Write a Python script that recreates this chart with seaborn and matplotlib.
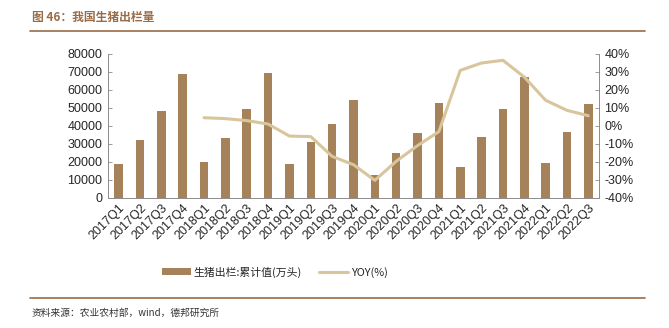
import numpy as np
import pandas as pd
import matplotlib
matplotlib.use("Agg")
import matplotlib.pyplot as plt
from matplotlib.patches import Patch
from matplotlib.lines import Line2D
import seaborn as sns

categories = ["2017Q1", "2017Q2", "2017Q3", "2017Q4",
              "2018Q1", "2018Q2", "2018Q3", "2018Q4",
              "2019Q1", "2019Q2", "2019Q3", "2019Q4",
              "2020Q1", "2020Q2", "2020Q3", "2020Q4",
              "2021Q1", "2021Q2", "2021Q3", "2021Q4",
              "2022Q1", "2022Q2", "2022Q3"]
slaughter = [19100, 32200, 48300, 69000,
             19800, 33300, 49600, 69600,
             18700, 31300, 40900, 54600,
             13000, 25000, 36100, 52800,
             17200, 33700, 49300, 67200,
             19400, 36700, 52200]
yoy = [np.nan, np.nan, np.nan, np.nan,
       4.6, 4.1, 3.0, 1.1,
       -5.6, -5.9, -16.9, -21.5,
       -30.2, -19.6, -10.9, -3.1,
       30.9, 35.0, 36.5, 27.2,
       14.3, 8.7, 5.7]
left_ticks = [0, 10000, 20000, 30000, 40000, 50000, 60000, 70000, 80000]
right_ticks = [-40, -30, -20, -10, 0, 10, 20, 30, 40]

bar_label = "生猪出栏:累计值(万头)"
line_label = "YOY(%)"
title = "图 46：我国生猪出栏量"
source = "资料来源：农业农村部，wind，德邦研究所"

sns.set_theme(style="white")
plt.rcParams['font.family'] = ['Liberation Sans', 'Noto Sans CJK SC', 'DejaVu Sans']
cjk = ['Noto Sans CJK SC', 'DejaVu Sans']

BAR = "#A6825A"
LINE = "#D8C59C"
BROWN = "#9A6B45"
AX = "#8C8C8C"
FS = 9

fig = plt.figure(figsize=(6.69, 3.28), dpi=100)
ax = fig.add_axes([108/669, 1-198/328, (599-108)/669, (198-54)/328])

df = pd.DataFrame({"q": categories, "v": slaughter, "y": yoy})
sns.barplot(data=df, x="q", y="v", ax=ax, color=BAR, width=0.4,
            saturation=1, edgecolor="none", order=categories)
ax.set_xlim(-0.5, len(categories) - 0.5)
ax.set_ylim(0, 80000)
ax.set_yticks(left_ticks)
ax.set_yticklabels([str(t) for t in left_ticks], fontsize=FS)
ax.set_xlabel("")
ax.set_ylabel("")
ax.set_xticks(np.arange(len(categories)))
ax.set_xticklabels(categories, rotation=45, ha="right", rotation_mode="anchor",
                   fontsize=FS)
ax.tick_params(axis="x", length=0, pad=3)
ax.set_xticks(np.arange(len(categories) + 1) - 0.5, minor=True)
ax.tick_params(axis="x", which="minor", direction="in", length=3, color=AX, width=0.6)
ax.tick_params(axis="y", direction="in", length=3, color=AX, width=0.6, pad=4)
ax.spines["top"].set_visible(False)
for s in ["left", "bottom", "right"]:
    ax.spines[s].set_color(AX)
    ax.spines[s].set_linewidth(0.6)

ax2 = ax.twinx()
sns.lineplot(x=np.arange(len(categories)), y=df["y"], ax=ax2, color=LINE,
             linewidth=2.2)
ax2.set_ylim(-40, 40)
ax2.set_yticks(right_ticks)
ax2.set_yticklabels([f"{t}%" for t in right_ticks], fontsize=FS)
ax2.set_ylabel("")
ax2.tick_params(axis="y", direction="in", length=3, color=AX, width=0.6, pad=4)
ax2.spines["top"].set_visible(False)
for s in ["left", "bottom", "right"]:
    ax2.spines[s].set_color(AX)
    ax2.spines[s].set_linewidth(0.6)
ax2.set_xlim(-0.5, len(categories) - 0.5)

# title and rules
fig.text(32/669, 1-17/328, title, fontsize=8.5, fontweight="bold", color=BROWN,
         family=cjk, va="center", ha="left")
fig.add_artist(Line2D([30/669, 645/669], [1-31/328, 1-31/328], color=BROWN,
                      linewidth=1.2))
fig.add_artist(Line2D([30/669, 645/669], [1-298/328, 1-298/328], color=BROWN,
                      linewidth=1.2))
fig.text(32/669, 1-313/328, source, fontsize=7, color="#333333",
         family=cjk, va="center", ha="left")

handles = [Patch(facecolor=BAR, edgecolor="none", label=bar_label),
           Line2D([], [], color=LINE, linewidth=2.2, label=line_label)]
fig.legend(handles=handles, loc="center", bbox_to_anchor=(275/669, 1-272/328),
           ncol=2, frameon=False, handlelength=2.6,
           handleheight=0.7, columnspacing=1.6, handletextpad=0.3,
           prop={'family': cjk, 'size': 7.8})

fig.savefig("out.png", dpi=100)
